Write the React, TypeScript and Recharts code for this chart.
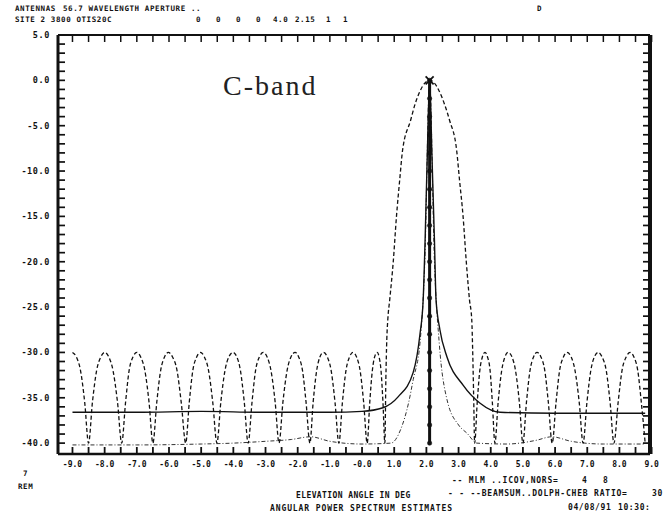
import React from 'react';
import { ComposedChart, Line, Scatter, XAxis, YAxis } from 'recharts';

// ---- data ----
const beamAngles = [
  -9.0, -8.88, -8.75, -8.62, -8.5, -8.38, -8.25, -8.12, -8.0,
  -7.87, -7.74, -7.6, -7.47, -7.35, -7.24, -7.12, -7.0,
  -6.88, -6.75, -6.62, -6.5, -6.38, -6.26, -6.14, -6.02,
  -5.89, -5.75, -5.62, -5.48, -5.37, -5.26, -5.14, -5.03,
  -4.9, -4.77, -4.64, -4.51, -4.39, -4.26, -4.14, -4.01,
  -3.89, -3.78, -3.66, -3.54, -3.42, -3.31, -3.19, -3.07,
  -2.95, -2.83, -2.7, -2.58, -2.46, -2.33, -2.21, -2.08,
  -1.97, -1.85, -1.74, -1.62, -1.52, -1.41, -1.31, -1.2,
  -1.08, -0.96, -0.84, -0.72, -0.61, -0.5, -0.39, -0.28,
  -0.17, -0.06, 0.05, 0.16, 0.24, 0.32, 0.39, 0.47,
  0.53, 0.59, 0.65, 0.71,
  0.74, 0.77, 0.8, 0.86, 0.97, 1.07, 1.17, 1.26, 1.51, 1.65, 1.8, 1.95, 2.1,
  2.25, 2.4, 2.56, 2.72, 2.94, 3.03, 3.14, 3.24, 3.34, 3.41, 3.44, 3.47, 3.5,
  3.58, 3.66, 3.74, 3.82, 3.9, 3.98, 4.05, 4.13,
  4.23, 4.34, 4.44, 4.54, 4.66, 4.77, 4.89, 5.0,
  5.11, 5.22, 5.33, 5.44, 5.56, 5.68, 5.79, 5.91,
  6.03, 6.14, 6.26, 6.37, 6.5, 6.62, 6.75, 6.87,
  6.99, 7.11, 7.22, 7.34, 7.46, 7.59, 7.71, 7.83,
  7.96, 8.08, 8.21, 8.33, 8.45, 8.57, 8.68, 8.8,
];
const beamPower = [
  -30, -30.5, -32, -35.5, -40, -35.5, -32, -30.5, -30,
  -30.5, -32, -35.5, -40, -35.5, -32, -30.5, -30,
  -30.5, -32, -35.5, -40, -35.5, -32, -30.5, -30,
  -30.5, -32, -35.5, -40, -35.5, -32, -30.5, -30,
  -30.5, -32, -35.5, -40, -35.5, -32, -30.5, -30,
  -30.5, -32, -35.5, -40, -35.5, -32, -30.5, -30,
  -30.5, -32, -35.5, -40, -35.5, -32, -30.5, -30,
  -30.5, -32, -35.5, -40, -35.5, -32, -30.5, -30,
  -30.5, -32, -35.5, -40, -35.5, -32, -30.5, -30,
  -30.5, -32, -35.5, -40, -35.5, -32, -30.5, -30,
  -30.5, -32, -35.5, -40,
  -33, -28.5, -26.4, -24.2, -20, -15, -11, -7.7, -4.4, -2.6, -1.2, -0.3, 0,
  -0.3, -1.2, -2.6, -4.4, -7.7, -11, -15, -20, -24.2, -26.4, -30, -35, -40,
  -35.5, -32, -30.5, -30, -30.5, -32, -35.5, -40,
  -35.5, -32, -30.5, -30, -30.5, -32, -35.5, -40,
  -35.5, -32, -30.5, -30, -30.5, -32, -35.5, -40,
  -35.5, -32, -30.5, -30, -30.5, -32, -35.5, -40,
  -35.5, -32, -30.5, -30, -30.5, -32, -35.5, -40,
  -35.5, -32, -30.5, -30, -30.5, -32, -35.5, -40,
];

const mlmAngles = [-9.0, -7.0, -5.0, -3.0, -1.0, 0.0, 0.65, 1.12, 1.59, 1.8, 1.9, 1.96, 2.03, 2.1, 2.17, 2.25, 2.3, 2.42, 2.64, 3.14, 3.67, 4.29, 6.0, 8.8];
const mlmPower = [-36.6, -36.6, -36.5, -36.6, -36.6, -36.5, -36.1, -34.9, -32.2, -28, -24.2, -17.6, -8, 0, -8, -17.6, -24.2, -27.5, -30.5, -33.6, -35.6, -36.6, -36.7, -36.7];

const dotAngles = [-9.0, -7.0, -5.0, -4.0, -3.0, -2.2, -1.6, -1.0, 0.0, 0.9, 1.2, 1.45, 1.59, 1.8, 1.95, 2.1, 2.25, 2.4, 2.64, 3.0, 3.26, 3.57, 4.5, 5.4, 5.9, 6.5, 7.5, 8.8];
const dotPower = [-40.2, -40.2, -40.1, -40.0, -39.8, -39.6, -39.3, -39.8, -40.1, -40, -38.5, -35.5, -33, -29, -20, 0, -20, -29, -35.2, -38, -38.9, -40, -40.1, -39.7, -39.3, -39.8, -40.1, -40.1];

const spikeAngle = 2.1;
const spikePower = [0, -2, -4, -6, -8, -10, -12, -14, -16, -18, -20, -22, -24, -26, -28, -30, -32, -34, -36, -38, -40];

const peakAngle = 2.1;
const peakPower = 0;

// tick positions: every 0.5 deg along x (labels on whole degrees), every 1 dB along y (labels every 5 dB)
const xTickValues = [
  -9, -8.5, -8, -7.5, -7, -6.5, -6, -5.5, -5, -4.5, -4, -3.5, -3, -2.5, -2, -1.5, -1, -0.5,
  0, 0.5, 1, 1.5, 2, 2.5, 3, 3.5, 4, 4.5, 5, 5.5, 6, 6.5, 7, 7.5, 8, 8.5, 9,
];
const yTickValues = [
  -40, -39, -38, -37, -36, -35, -34, -33, -32, -31, -30, -29, -28, -27, -26, -25, -24, -23, -22, -21,
  -20, -19, -18, -17, -16, -15, -14, -13, -12, -11, -10, -9, -8, -7, -6, -5, -4, -3, -2, -1, 0, 1, 2, 3, 4, 5,
];

const X_MIN = -9.45;
const X_MAX = 8.95;
const Y_MIN = -41.2;
const Y_MAX = 5;

// chart box
const W = 666;
const H = 518;
const M_TOP = 34;
const M_RIGHT = 15;
const Y_AXIS_W = 58;
const X_AXIS_H = 64;

// ---- derived tables ----
const beamData = beamAngles.map((x, i) => ({ x, y: beamPower[i] }));
const mlmData = mlmAngles.map((x, i) => ({ x, y: mlmPower[i] }));
const dotData = dotAngles.map((x, i) => ({ x, y: dotPower[i] }));
const spikeData = spikePower.map((y) => ({ x: spikeAngle, y }));
const peakData = [{ x: peakAngle, y: peakPower }];

const MONO = '"DejaVu Sans Mono", "Liberation Mono", monospace';
const INK = '#111';
const TICK = 7;

const fmtX = (v: number) => (v === 0 ? '-0.0' : v.toFixed(1));

const BottomLabel = (props: any) => {
  const { x, y, payload } = props;
  const v = payload.value as number;
  if (!Number.isInteger(v)) return <g />;
  return (
    <text x={x} y={y + 13} textAnchor="middle" fontSize={8} fontWeight="bold" fontFamily={MONO} fill={INK}>
      {fmtX(v)}
    </text>
  );
};

const LeftLabel = (props: any) => {
  const { x, y, payload } = props;
  const v = payload.value as number;
  if (v % 5 !== 0) return <g />;
  return (
    <text x={x - 8} y={y + 3} textAnchor="end" fontSize={8.5} fontWeight="bold" fontFamily={MONO} fill={INK} letterSpacing={0.6}>
      {v.toFixed(1)}
    </text>
  );
};

const NoLabel = () => <g />;

const XMark = (props: any) => {
  const { cx, cy } = props;
  const s = 4;
  return (
    <g>
      <line x1={cx - s} y1={cy - s} x2={cx + s} y2={cy + s} stroke={INK} strokeWidth={1.8} />
      <line x1={cx - s} y1={cy + s} x2={cx + s} y2={cy - s} stroke={INK} strokeWidth={1.8} />
    </g>
  );
};

const T = (p: { x: number; y: number; s?: number; ls?: number; children: React.ReactNode }) => (
  <text x={p.x} y={p.y} fontSize={p.s ?? 7.5} fontWeight="bold" fontFamily={MONO} fill={INK} letterSpacing={p.ls ?? 0.6}>
    {p.children}
  </text>
);

export default function App() {
  return (
    <div style={{ position: 'absolute', left: 0, top: 0, width: W, height: H, background: '#fff' }}>
      <ComposedChart width={W} height={H} margin={{ top: M_TOP, right: M_RIGHT, left: 0, bottom: 0 }}>
        {/* bottom axis: inward ticks every 0.5 deg */}
        <XAxis
          xAxisId="x"
          type="number"
          dataKey="x"
          domain={[X_MIN, X_MAX]}
          ticks={xTickValues}
          interval={0}
          height={X_AXIS_H}
          tickSize={-TICK}
          tickMargin={TICK}
          tickLine={{ stroke: INK, strokeWidth: 1.8 }}
          tick={BottomLabel}
          axisLine={{ stroke: INK, strokeWidth: 2.6 }}
        />
        {/* top edge of the frame with its inward ticks */}
        <XAxis
          xAxisId="xt"
          orientation="top"
          type="number"
          dataKey="x"
          domain={[X_MIN, X_MAX]}
          ticks={xTickValues}
          interval={0}
          height={1}
          tickSize={-TICK}
          tickMargin={0}
          tickLine={{ stroke: INK, strokeWidth: 1.5 }}
          tick={NoLabel}
          axisLine={{ stroke: INK, strokeWidth: 2.2 }}
        />
        {/* left axis: inward ticks every 1 dB */}
        <YAxis
          yAxisId="y"
          type="number"
          dataKey="y"
          domain={[Y_MIN, Y_MAX]}
          ticks={yTickValues}
          interval={0}
          width={Y_AXIS_W}
          tickSize={-TICK}
          tickMargin={TICK}
          tickLine={{ stroke: INK, strokeWidth: 1.7 }}
          tick={LeftLabel}
          axisLine={{ stroke: INK, strokeWidth: 3 }}
        />
        {/* right edge of the frame with its inward ticks */}
        <YAxis
          yAxisId="yr"
          orientation="right"
          type="number"
          dataKey="y"
          domain={[Y_MIN, Y_MAX]}
          ticks={yTickValues}
          interval={0}
          width={1}
          tickSize={-TICK}
          tickMargin={0}
          tickLine={{ stroke: INK, strokeWidth: 1.7 }}
          tick={NoLabel}
          axisLine={{ stroke: INK, strokeWidth: 4 }}
        />
        <Line
          xAxisId="xt"
          yAxisId="yr"
          data={dotData}
          dataKey="y"
          type="monotone"
          stroke="none"
          dot={false}
          legendType="none"
          isAnimationActive={false}
        />
        <Line
          xAxisId="x"
          yAxisId="y"
          data={dotData}
          dataKey="y"
          type="monotone"
          stroke="#333"
          strokeWidth={1}
          strokeDasharray="4 2 1 2"
          dot={false}
          isAnimationActive={false}
        />
        <Line
          xAxisId="x"
          yAxisId="y"
          data={beamData}
          dataKey="y"
          type="monotone"
          stroke={INK}
          strokeWidth={1.3}
          strokeDasharray="4 2.5"
          dot={false}
          isAnimationActive={false}
        />
        <Line
          xAxisId="x"
          yAxisId="y"
          data={mlmData}
          dataKey="y"
          type="monotone"
          stroke={INK}
          strokeWidth={1.4}
          dot={false}
          isAnimationActive={false}
        />
        <Line
          xAxisId="x"
          yAxisId="y"
          data={spikeData}
          dataKey="y"
          type="linear"
          stroke={INK}
          strokeWidth={3}
          dot={{ r: 2.2, fill: INK, stroke: INK, strokeWidth: 0.5 }}
          isAnimationActive={false}
        />
        <Scatter xAxisId="x" yAxisId="y" data={peakData} dataKey="y" shape={XMark} isAnimationActive={false} />
      </ComposedChart>

      <svg width={W} height={H} style={{ position: 'absolute', left: 0, top: 0, pointerEvents: 'none' }}>
        <T x={15} y={11}>ANTENNAS</T>
        <T x={63} y={11}>56.7 WAVELENGTH APERTURE ..</T>
        <T x={537} y={11}>D</T>
        <T x={15} y={22}>SITE 2 3800 OTIS20C</T>
        <T x={196} y={22}>0</T>
        <T x={216} y={22}>0</T>
        <T x={236} y={22}>0</T>
        <T x={256} y={22}>0</T>
        <T x={273} y={22}>4.0</T>
        <T x={295} y={22}>2.15</T>
        <T x={326} y={22}>1</T>
        <T x={343} y={22}>1</T>
        <text x={223} y={95} fontSize={28} fontFamily='"Liberation Serif", "DejaVu Serif", serif' fill="#222" letterSpacing={2}>
          C-band
        </text>
        <T x={23} y={476}>7</T>
        <T x={18} y={489}>REM</T>
        <T x={296} y={498} s={8} ls={0.4}>ELEVATION ANGLE IN DEG</T>
        <T x={270} y={511} s={8} ls={0.9}>ANGULAR POWER SPECTRUM ESTIMATES</T>
        <T x={452} y={483} s={8} ls={0.8}>-- MLM ..ICOV,NORS=</T>
        <T x={582} y={483} s={8}>4</T>
        <T x={603} y={483} s={8}>8</T>
        <T x={448} y={496} s={8} ls={0.8}>- - --BEAMSUM..DOLPH-CHEB RATIO=</T>
        <T x={652} y={496} s={8}>30</T>
        <T x={568} y={510} s={8} ls={0.6}>04/08/91</T>
        <T x={618} y={510} s={8} ls={0.6}>10:30:</T>
      </svg>
    </div>
  );
}
